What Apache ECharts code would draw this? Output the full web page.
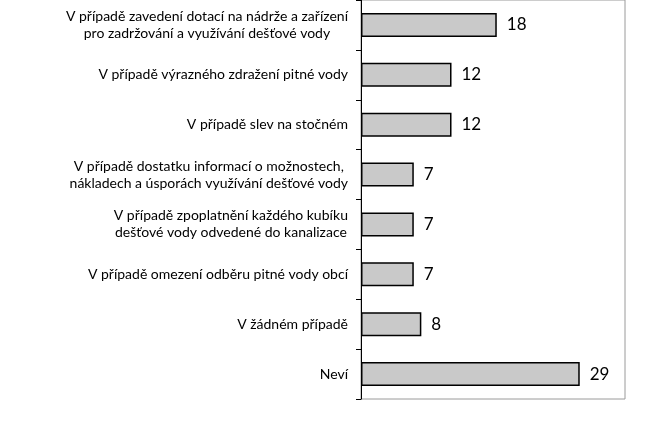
<!DOCTYPE html>
<html>
<head>
<meta charset="utf-8">
<script src="https://cdn.jsdelivr.net/npm/echarts@6/dist/echarts.min.js"></script>
<style>
  html, body { margin: 0; padding: 0; background: #fff; }
  #chart { width: 666px; height: 424px; }
</style>
</head>
<body>
<div id="chart"></div>
<script>
// categories, top to bottom
var categories = [
    'V případě zavedení dotací na nádrže a zařízení\npro zadržování a využívání dešťové vody',
    'V případě výrazného zdražení pitné vody',
    'V případě slev na stočném',
    'V případě dostatku informací o možnostech,\nnákladech a úsporách využívání dešťové vody',
    'V případě zpoplatnění každého kubíku\ndešťové vody odvedené do kanalizace',
    'V případě omezení odběru pitné vody obcí',
    'V žádném případě',
    'Neví'
];
var values = [18, 12, 12, 7, 7, 7, 8, 29];

var FONT = 'Lato';

var chart = echarts.init(document.getElementById('chart'));

var option = {
    animation: false,
    grid: {
        left: 361,
        right: 41,
        top: 0,
        bottom: 25,
        show: true,
        borderColor: '#9a9a9a',
        borderWidth: 1
    },
    xAxis: {
        type: 'value',
        min: 0,
        max: 35,
        axisLine: { show: false },
        axisTick: { show: false },
        axisLabel: { show: false },
        splitLine: { show: false }
    },
    yAxis: {
        type: 'category',
        inverse: true,
        data: categories,
        axisLine: { show: true, lineStyle: { color: '#000', width: 1 } },
        axisTick: { show: true, length: 5, lineStyle: { color: '#000' } },
        axisLabel: {
            margin: 13,
            align: 'right',
            formatter: function(v) {
                return v.split('\n').map(function(l) {
                    return '{c|' + l + '}';
                }).join('\n');
            },
            rich: {
                c: {
                    align: 'center',
                    fontFamily: FONT,
                    fontSize: 14,
                    lineHeight: 17,
                    color: '#000'
                }
            }
        }
    },
    series: [{
        type: 'bar',
        data: values,
        barWidth: 24,
        itemStyle: {
            color: '#c9c9c9',
            borderColor: '#000',
            borderWidth: 1.5
        },
        label: {
            show: true,
            position: 'right',
            distance: 10,
            fontFamily: FONT,
            fontSize: 17,
            color: '#000'
        }
    }]
};

chart.setOption(option);
</script>
</body>
</html>
